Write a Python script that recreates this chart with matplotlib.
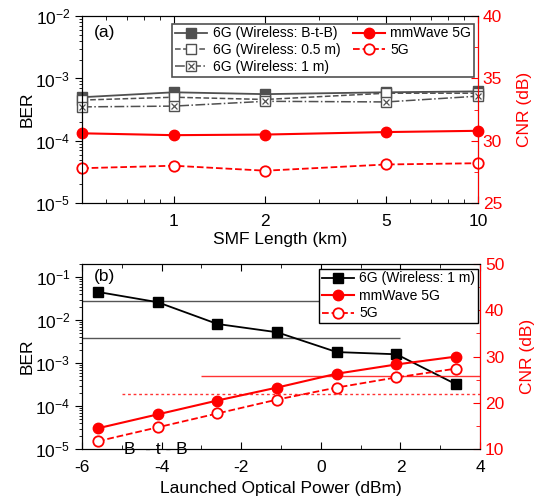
import numpy as np
import matplotlib.pyplot as plt
from matplotlib.ticker import LogLocator, NullFormatter, MultipleLocator
from matplotlib.legend_handler import HandlerTuple

plt.rcParams['font.family'] = ['Liberation Sans', 'DejaVu Sans']
plt.rcParams['mathtext.fontset'] = 'custom'
plt.rcParams['mathtext.rm'] = 'Liberation Sans'
plt.rcParams['axes.unicode_minus'] = False

RED = '#ff0000'
GRAY = '#505050'

# (a) BER / CNR vs SMF length
smf_km = [0.5, 1, 2, 5, 10]
ber_btb = [5.0e-4, 6.0e-4, 5.6e-4, 6.0e-4, 6.2e-4]
ber_05m = [4.5e-4, 5.0e-4, 4.6e-4, 5.8e-4, 5.8e-4]
ber_1m = [3.5e-4, 3.6e-4, 4.3e-4, 4.2e-4, 5.2e-4]
cnr_mmw_a = [30.6, 30.45, 30.5, 30.7, 30.8]
cnr_5g_a = [27.8, 28.0, 27.6, 28.1, 28.2]

# (b) BER / CNR vs launched optical power
power_dbm = [-5.6, -4.1, -2.6, -1.1, 0.4, 1.9, 3.4]
ber_1m_b = [4.5e-2, 2.6e-2, 8.1e-3, 5.2e-3, 1.8e-3, 1.6e-3, 3.2e-4]
cnr_mmw_b = [14.5, 17.5, 20.5, 23.3, 26.3, 28.3, 30.0]
cnr_5g_b = [11.7, 14.7, 17.7, 20.7, 23.3, 25.5, 27.4]

# threshold lines in (b): (value, x start, x end)
ber_lines = [(2.7e-2, -6, 0), (3.8e-3, -6, 2)]
cnr_solid = (25.9, -3, 4)
cnr_dotted = (21.8, -5, 4)

FS = 12.5
fig = plt.figure(figsize=(5.4, 5.04), dpi=100)
axa = fig.add_axes([0.152, 0.597, 0.733, 0.371])
axb = fig.add_axes([0.152, 0.109, 0.737, 0.367])


def style_axes(ax, ax2):
    ax.set_yscale('log')
    ax.tick_params(axis='y', which='major', direction='out', length=5, labelsize=FS)
    ax.tick_params(axis='y', which='minor', direction='out', length=2.5)
    ax.tick_params(axis='x', which='major', direction='in', length=5, labelsize=FS, top=True, pad=8)
    ax.tick_params(axis='x', which='minor', direction='in', length=3, top=True)
    ax.yaxis.set_minor_locator(LogLocator(base=10, subs=np.arange(2, 10), numticks=20))
    ax.yaxis.set_minor_formatter(NullFormatter())
    ax2.spines['right'].set_color(RED)
    ax2.tick_params(axis='y', which='both', colors=RED, direction='in', labelsize=FS)
    ax2.tick_params(axis='y', which='major', length=5)
    ax2.tick_params(axis='y', which='minor', length=3)
    ax.set_ylabel('BER', fontsize=FS)
    ax2.set_ylabel('CNR (dB)', fontsize=FS, color=RED)


# ---- panel (a)
axa2 = axa.twinx()
style_axes(axa, axa2)
l1, = axa.plot(smf_km, ber_btb, '-s', color=GRAY, mfc=GRAY, ms=7, lw=1.3, clip_on=False)
l2, = axa.plot(smf_km, ber_05m, '--s', color=GRAY, mfc='white', ms=7, lw=1.1, clip_on=False)
l3, = axa.plot(smf_km, ber_1m, '-.s', color=GRAY, mfc='white', ms=7, lw=1.1, clip_on=False)
l3x, = axa.plot(smf_km, ber_1m, 'x', color=GRAY, ms=5, mew=0.9, clip_on=False)
r1, = axa2.plot(smf_km, cnr_mmw_a, '-o', color=RED, ms=7.5, lw=1.5, clip_on=False)
r2, = axa2.plot(smf_km, cnr_5g_a, '--o', color=RED, mfc='white', ms=7.5, lw=1.3, mew=1.3, clip_on=False)
axa.set_xscale('log')
axa.set_xlim(0.5, 10)
axa.set_xticks([1, 2, 5, 10])
axa.set_xticklabels(['1', '2', '5', '10'])
axa.xaxis.set_minor_locator(LogLocator(base=10, subs=np.arange(2, 10), numticks=20))
axa.xaxis.set_minor_formatter(NullFormatter())
axa.set_ylim(1e-5, 1e-2)
axa2.set_ylim(25, 40)
axa2.yaxis.set_major_locator(MultipleLocator(5))
axa2.yaxis.set_minor_locator(MultipleLocator(2.5))
axa.set_xlabel('SMF Length (km)', fontsize=FS, labelpad=2)
axa.text(0.03, 0.95, '(a)', transform=axa.transAxes, fontsize=FS, va='top')
axa.yaxis.set_label_coords(-0.12, 0.5)
axa2.yaxis.set_label_coords(1.1, 0.5)
leg = axa2.legend([l1, l2, (l3, l3x), r1, r2],
                  ['6G (Wireless: B-t-B)', '6G (Wireless: 0.5 m)', '6G (Wireless: 1 m)',
                   'mmWave 5G', '5G'],
                  handler_map={tuple: HandlerTuple(ndivide=1)},
                  ncol=2, loc='upper right', bbox_to_anchor=(0.99, 0.96), borderaxespad=0,
                  fontsize=10, fancybox=False, handlelength=2.3, handletextpad=0.4,
                  columnspacing=0.9, borderpad=0.2, labelspacing=0.2, framealpha=1)
leg.get_frame().set_edgecolor(GRAY)
leg.get_frame().set_linewidth(1.2)

# ---- panel (b)
axb2 = axb.twinx()
style_axes(axb, axb2)
for val, x0, x1 in ber_lines:
    axb.hlines(val, x0, x1, color='#555555', lw=1.0)
axb2.hlines(cnr_solid[0], cnr_solid[1], cnr_solid[2], color=RED, lw=1.0, alpha=0.8)
axb2.hlines(cnr_dotted[0], cnr_dotted[1], cnr_dotted[2], color=RED, lw=1.0, ls=(0, (2, 2)), alpha=0.8)
b1, = axb.plot(power_dbm, ber_1m_b, '-s', color='black', ms=7, lw=1.3)
b2, = axb2.plot(power_dbm, cnr_mmw_b, '-o', color=RED, ms=7.5, lw=1.5)
b3, = axb2.plot(power_dbm, cnr_5g_b, '--o', color=RED, mfc='white', ms=7.5, lw=1.3, mew=1.3)
axb.set_xlim(-6, 4)
axb.xaxis.set_major_locator(MultipleLocator(2))
axb.xaxis.set_minor_locator(MultipleLocator(1))
axb.set_ylim(1e-5, 0.2)
axb2.set_ylim(10, 50)
axb2.yaxis.set_major_locator(MultipleLocator(10))
axb2.yaxis.set_minor_locator(MultipleLocator(5))
axb.set_xlabel('Launched Optical Power (dBm)', fontsize=FS, labelpad=4)
axb.text(0.03, 0.975, '(b)', transform=axb.transAxes, fontsize=FS, va='top')
axb.text(-4.95, 0.0, 'B  - t - B', transform=axb.get_xaxis_transform(),
         fontsize=FS, va='center', ha='left')
axb.yaxis.set_label_coords(-0.12, 0.5)
axb2.yaxis.set_label_coords(1.1, 0.5)
legb = axb2.legend([b1, b2, b3], ['6G (Wireless: 1 m)', 'mmWave 5G', '5G'],
                   loc='upper right', bbox_to_anchor=(0.995, 0.975), borderaxespad=0,
                   fontsize=10, fancybox=False, handlelength=2.3, handletextpad=0.4,
                   borderpad=0.2, labelspacing=0.25, framealpha=1)
legb.get_frame().set_edgecolor('black')
legb.get_frame().set_linewidth(1.0)

fig.savefig('out.png', dpi=100)
